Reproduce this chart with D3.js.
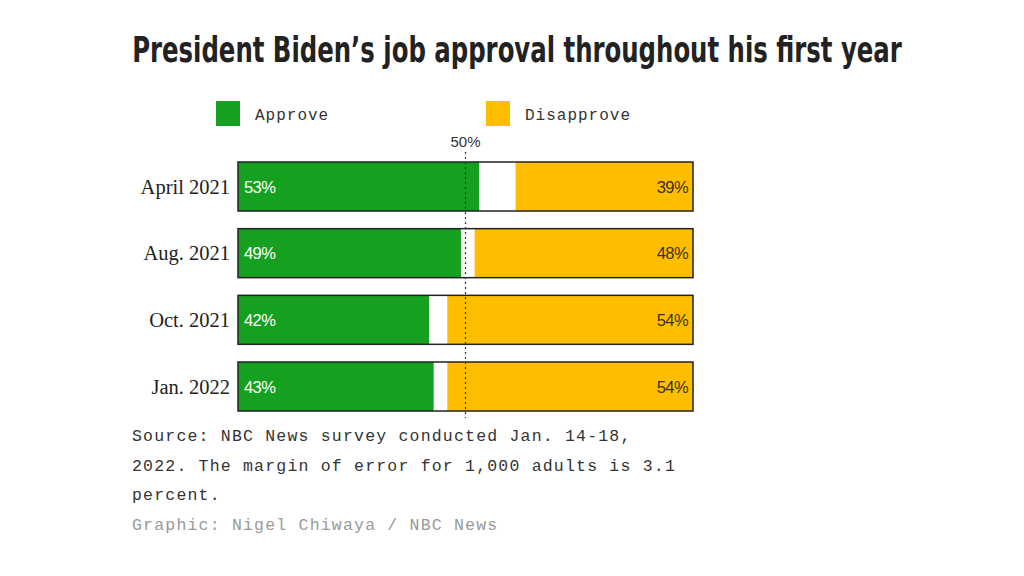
<!DOCTYPE html>
<html><head><meta charset="utf-8">
<script src="https://cdn.jsdelivr.net/npm/d3@7"></script>
<style>body{margin:0;background:#fff}</style>
</head><body>
<svg id="c" width="1024" height="576"></svg>
<script>
const categories = ["April 2021", "Aug. 2021", "Oct. 2021", "Jan. 2022"];
const approve = [53, 49, 42, 43];
const disapprove = [39, 48, 54, 54];
const seriesNames = ["Approve", "Disapprove"];
const colors = ["#15a020", "#ffbd00"];
const title = "President Biden\u2019s job approval throughout his first year";
const sourceLines = ["Source: NBC News survey conducted Jan. 14-18,", "2022. The margin of error for 1,000 adults is 3.1", "percent."];
const credit = "Graphic: Nigel Chiwaya / NBC News";

const svg = d3.select("#c");
const x = d3.scaleLinear().domain([0, 100]).range([238, 693]);
const y = d3.scaleBand().domain(categories).range([162, 411]).paddingInner(0.265).paddingOuter(0);

const tg = svg.append("g");
const t = tg.append("text").attr("x", 0).attr("y", 0).attr("text-anchor", "middle")
  .style("font-family", "'DejaVu Sans Condensed', 'Liberation Sans Narrow', sans-serif")
  .style("font-stretch", "condensed")
  .style("font-weight", "bold").style("font-size", "36px").attr("fill", "#222")
  .text(title);
const w = t.node().getComputedTextLength();
const sx = w > 0 ? 770 / w : 1;
tg.attr("transform", `translate(517,62) scale(${sx},1)`);

// legend
const legX = [216, 486];
seriesNames.forEach((n, i) => {
  svg.append("rect").attr("x", legX[i]).attr("y", 101).attr("width", 24).attr("height", 25).attr("fill", colors[i]);
  svg.append("text").attr("x", legX[i] + 39).attr("y", 120)
    .style("font-family", "'Liberation Mono', monospace").style("font-size", "16px").style("letter-spacing", "1px")
    .attr("fill", "#333").text(n);
});

const g = svg.append("g");
const rows = categories.map((c, i) => ({c, a: approve[i], d: disapprove[i]}));

g.selectAll(".bg").data(rows).join("rect")
  .attr("x", x(0)).attr("y", d => y(d.c)).attr("width", x(100) - x(0)).attr("height", y.bandwidth())
  .attr("fill", "#fff");
g.selectAll(".ap").data(rows).join("rect")
  .attr("x", x(0)).attr("y", d => y(d.c)).attr("width", d => x(d.a) - x(0)).attr("height", y.bandwidth())
  .attr("fill", colors[0]);
g.selectAll(".dp").data(rows).join("rect")
  .attr("x", d => x(100 - d.d)).attr("y", d => y(d.c)).attr("width", d => x(100) - x(100 - d.d)).attr("height", y.bandwidth())
  .attr("fill", colors[1]);
g.selectAll(".ol").data(rows).join("rect")
  .attr("x", x(0)).attr("y", d => y(d.c)).attr("width", x(100) - x(0)).attr("height", y.bandwidth())
  .attr("fill", "none").attr("stroke", "#222").attr("stroke-width", 1.5);

// 50% line
svg.append("line").attr("x1", x(50)).attr("x2", x(50)).attr("y1", 152).attr("y2", 418)
  .attr("stroke", "#333").attr("stroke-width", 1.2).attr("stroke-dasharray", "2,3");
svg.append("text").attr("x", x(50)).attr("y", 147).attr("text-anchor", "middle")
  .style("font-family", "'Liberation Sans', Arial, sans-serif").style("font-size", "15px").attr("fill", "#333").text("50%");

// value labels
g.selectAll(".al").data(rows).join("text")
  .attr("x", x(0) + 6).attr("y", d => y(d.c) + y.bandwidth() / 2 + 6)
  .style("font-family", "'Liberation Sans', Arial, sans-serif").style("font-size", "16.5px").style("letter-spacing", "-0.6px")
  .style("font-weight", "500").attr("fill", "#fff").text(d => d.a + "%");
g.selectAll(".dl").data(rows).join("text")
  .attr("x", x(100) - 5).attr("y", d => y(d.c) + y.bandwidth() / 2 + 6).attr("text-anchor", "end")
  .style("font-family", "'Liberation Sans', Arial, sans-serif").style("font-size", "16.5px").style("letter-spacing", "-0.6px")
  .attr("fill", "#3a3320").text(d => d.d + "%");

// category labels
g.selectAll(".cl").data(rows).join("text")
  .attr("x", 230).attr("y", d => y(d.c) + y.bandwidth() / 2 + 7).attr("text-anchor", "end")
  .style("font-family", "'Liberation Serif', 'Times New Roman', serif").style("font-size", "20.5px")
  .attr("fill", "#222").text(d => d.c);

// source
sourceLines.forEach((t, i) => {
  svg.append("text").attr("x", 132).attr("y", 441 + i * 29.5)
    .style("font-family", "'Liberation Mono', monospace").style("font-size", "16.5px").style("letter-spacing", "1.2px")
    .attr("fill", "#333").text(t);
});
svg.append("text").attr("x", 132).attr("y", 530)
  .style("font-family", "'Liberation Mono', monospace").style("font-size", "16.5px").style("letter-spacing", "1.2px")
  .attr("fill", "#999").text(credit);
</script>
</body></html>
